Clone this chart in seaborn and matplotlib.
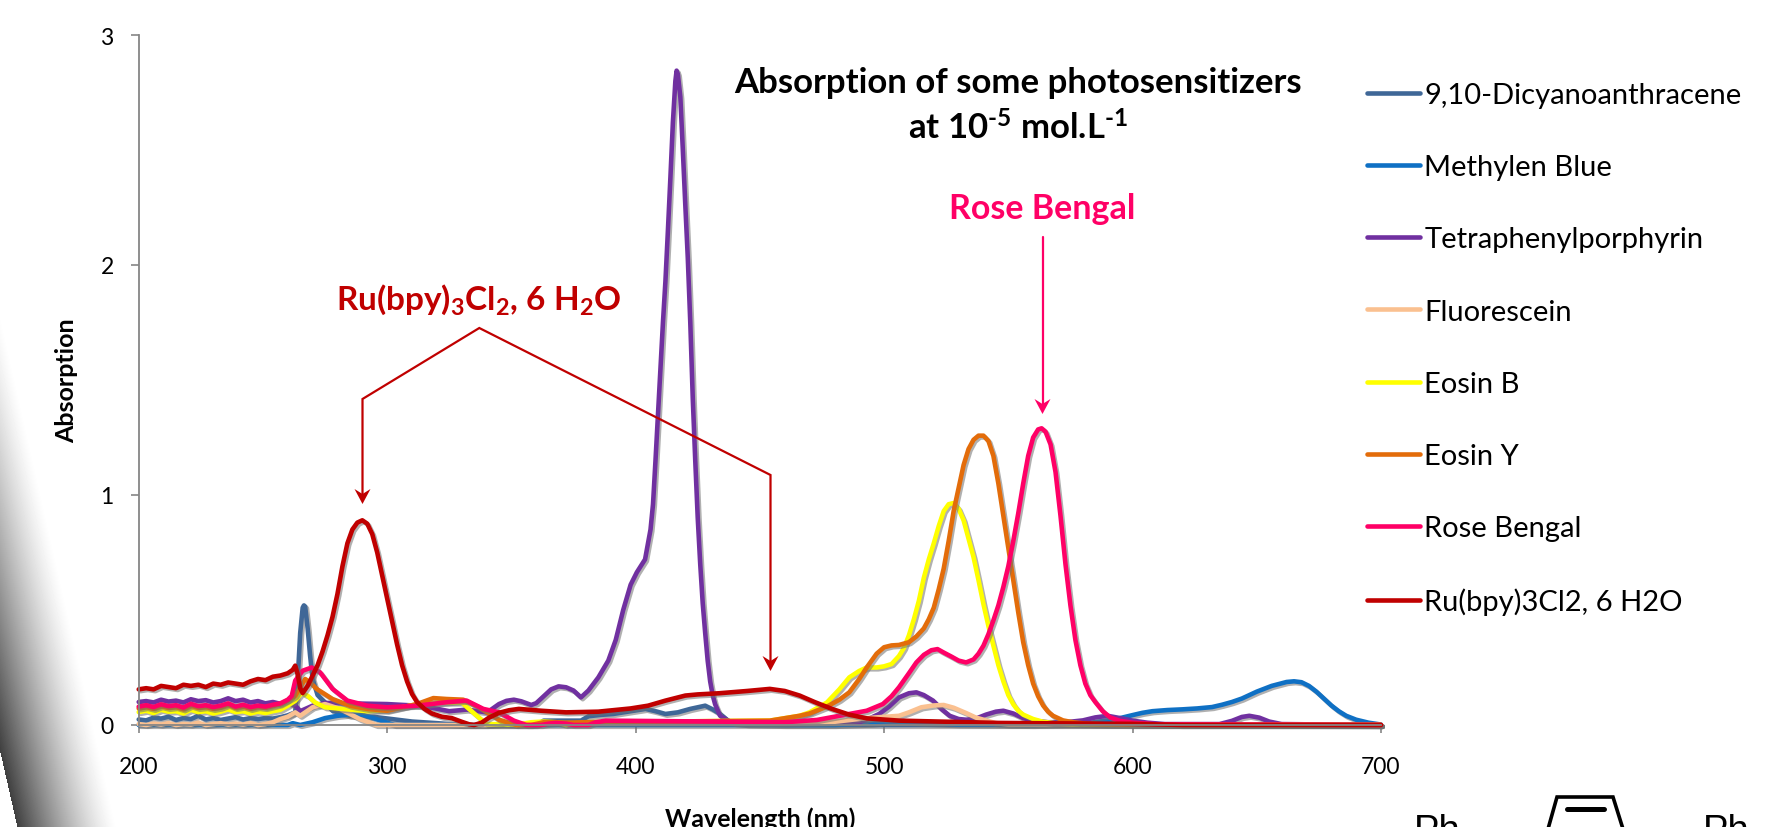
import numpy as np
import pandas as pd
import matplotlib
matplotlib.use("Agg")
import matplotlib.pyplot as plt
import matplotlib.patheffects as pe
from matplotlib.lines import Line2D
from matplotlib.patches import Polygon
import seaborn as sns

W_PX, H_PX = 1788, 828

# baseline noise is read every 3 nm from 200 to 260
noise_wl = list(range(200, 261, 3))

dca_noise = [.024, .02, .032, .028, .036, .022, .03, .026, .04, .024, .03, .022, .028, .034, .024, .03, .026, .03, .028, .034, .042]
dca_peaks = [(263, .055), (264, .2), (265, .4), (266, .51), (266.5, .52), (267, .515), (268, .42), (269, .3), (270, .2), (272, .13), (275, .098),
             (278, .062), (285, .04), (295, .035), (310, .015), (320, .008), (330, 0), (360, 0), (363, .019), (378, .019),
             (381, .038), (386, .044), (391, .048), (398, .06), (404, .07), (408, .06), (412, .048), (417, .055), (422, .07), (428, .084),
             (431, .068), (434, .048), (438, .012), (445, .003), (460, 0), (700, 0)]

mb_noise = [0] * 21
mb_peaks = [(262, .008), (265, 0), (270, .012), (275, .03), (280, .04), (285, .045), (290, .045), (295, .028), (300, .01), (303, 0),
            (480, 0), (495, .006), (500, .012), (510, .012), (530, .003), (560, 0), (580, .005), (590, .02), (595, .03), (600, .043),
            (604, .053), (608, .06), (614, .065), (620, .068), (626, .072), (632, .078), (636, .088), (640, .1), (644, .115), (647, .13),
            (650, .145), (656, .17), (662, .187), (665, .19), (668, .186), (671, .17), (674, .145), (677, .115), (680, .085),
            (683, .06), (686, .04), (690, .023), (695, .01), (700, .002)]

tpp_noise = [.1, .104, .098, .11, .102, .106, .098, .112, .104, .108, .098, .104, .116, .104, .11, .098, .104, .094, .1, .092, .096]
tpp_peaks = [(263, .085), (265, .06), (270, .084), (275, .096), (285, .094), (300, .091), (312, .084), (318, .075), (325, .06),
             (332, .067), (340, .055), (342, .068), (345, .091), (348, .105), (351, .11), (354, .103), (358, .087), (360, .095),
             (363, .125), (366, .155), (369, .168), (372, .164), (375, .15), (378, .12), (381, .15), (385, .207), (389, .28),
             (392, .37), (395, .5), (398, .61), (400.5, .664), (403.8, .72), (406, .85), (407, .96), (408, 1.15),
             (409, 1.35), (410, 1.55), (411, 1.75), (412, 1.93), (413, 2.15), (414, 2.38), (415, 2.62), (416, 2.8), (416.5, 2.845),
             (417, 2.83), (418, 2.73), (419, 2.5), (420, 2.26), (421, 2.03), (422, 1.75), (423, 1.42), (424, 1.15), (425, .9),
             (426, .7), (427, .53), (428, .4), (429, .28), (430, .19), (431, .13), (432, .09), (434, .04), (437, .02), (440, .008),
             (445, .005), (490, .012), (494, .028), (498, .048), (502, .08), (506, .12), (510, .138), (513, .142), (516, .13),
             (519.7, .106), (523, .07), (526.4, .04), (530, .026), (533, .023), (537, .028), (541, .045), (545, .058), (548, .062),
             (552, .05), (556, .03), (560, .019), (566, .012), (573, .012), (580, .02), (585, .033), (590, .04), (595, .03), (600, .019),
             (606, .01), (613, .004), (635, .004), (640, .018), (644, .035), (647, .04), (651, .032), (655, .015), (660, .004), (700, 0)]

fluo_noise = [.004, 0, .006, .002, .008, 0, .004, .002, .01, 0, .004, .008, .002, .006, .002, .008, 0, .004, .012, .026, .036]
fluo_peaks = [(263, .055), (265, .04), (270, .077), (275, .091), (281, .07), (289, .026), (295.6, 0), (340, 0), (350, .008), (460, .008),
              (480, .014), (493, .03), (506, .04), (510, .055), (515, .077), (520, .085), (524, .087), (528, .075), (533, .052),
              (537, .032), (540, .023), (545, .008), (550, .002), (700, 0)]

eosb_noise = [.056, .062, .052, .066, .058, .06, .05, .066, .056, .06, .05, .058, .068, .056, .06, .05, .058, .052, .06, .066, .084]
eosb_peaks = [(263, .105), (265.5, .139), (268, .127), (271, .098), (275, .077), (285, .067), (292, .06), (300, .065), (312, .09),
              (322, .097), (330, .098), (334.5, .055), (340, .004), (346.7, .004), (352, 0), (358, .012), (363, .015), (368, .012),
              (372, 0), (380, .012), (454, .019), (466, .04), (470, .055), (477, .098), (482, .155), (486, .207), (490, .235), (493, .25),
              (497, .25), (500, .255), (503, .265), (506, .3), (508, .335), (510, .39), (512, .46), (514, .54), (516, .64), (518, .72),
              (520, .79), (522, .865), (524, .93), (526, .96), (528, .965), (530, .94), (532, .89), (534, .81), (536, .73), (538, .63),
              (540, .525), (542, .43), (544, .345), (546, .26), (548, .19), (550, .13), (552, .09), (554, .062), (556, .045),
              (560, .026), (564, .014), (570, .006), (580, .002), (600, 0), (700, 0)]

eosy_noise = [.072, .078, .07, .082, .074, .078, .068, .084, .074, .078, .07, .076, .088, .074, .08, .07, .078, .074, .082, .09, .108]
eosy_peaks = [(263, .127), (267, .2), (269, .185), (271.6, .157), (278, .113), (285, .084), (292, .07), (300, .062), (312, .091),
              (318.6, .117), (324, .113), (330.6, .11), (337, .077), (345, .023), (352, 0), (358, 0), (363, .012), (368, .012),
              (372, .01), (380, .012), (454, .019), (466, .04), (470, .05), (477, .08), (482, .11), (486, .142), (490, .2), (493, .25),
              (497, .31), (500, .338), (503, .346), (506, .348), (510, .36), (513, .385), (516, .42), (518, .46), (520, .51), (522, .59),
              (524, .68), (526, .8), (528, .93), (530, 1.03), (532, 1.13), (534, 1.2), (536, 1.24), (538, 1.258), (540, 1.258), (542, 1.235),
              (544, 1.17), (546, 1.05), (548, .91), (550, .77), (552, .63), (554, .49), (556, .36), (558, .26), (560, .18), (562, .125),
              (564, .085), (566, .058), (568, .04), (572, .02), (576, .012), (582, .005), (590, .002), (700, 0)]

rose_noise = [.08, .086, .078, .09, .082, .086, .076, .092, .082, .086, .078, .084, .094, .08, .088, .078, .084, .08, .088, .094, .11]
rose_peaks = [(261.6, .127), (263, .193), (266, .236), (269.6, .25), (273, .229), (278, .157), (284, .106), (292, .084), (300, .077),
              (312, .084), (324, .099), (332, .106), (338.7, .07), (345, .055), (351, .019), (356, 0), (362, 0), (365, .006), (368, .009),
              (372, .006), (375, 0), (381, 0), (384, .012), (388, .019), (420, .016), (460, .012), (473, .022), (486, .048), (493, .062),
              (499.5, .091), (503, .125), (506, .164), (510, .225), (513, .272), (516, .305), (519, .325), (521.5, .33), (524, .315),
              (527, .298), (530, .28), (533, .272), (536, .285), (538, .31), (540, .345), (542, .395), (544, .455), (546, .52), (548, .6),
              (550, .69), (552, .8), (554, .92), (556, 1.05), (558, 1.17), (560, 1.25), (562, 1.285), (563.4, 1.29), (565, 1.275),
              (567, 1.22), (569, 1.1), (571, .91), (573, .7), (575, .52), (577, .37), (579, .26), (581, .18), (583, .13), (585, .1),
              (588, .06), (591, .033), (595, .018), (600, .01), (610, .003), (700, 0)]

ru_noise = [.155, .16, .155, .17, .165, .16, .175, .17, .175, .165, .18, .175, .185, .18, .175, .19, .2, .195, .21, .215, .225]
ru_peaks = [(262, .24), (263, .258), (264, .22), (265, .16), (266, .139), (268, .17), (270, .215), (272, .26), (274, .32), (276, .39),
            (278, .47), (280, .57), (282, .69), (284, .79), (286, .85), (288, .88), (290, .89), (292, .875), (294, .83),
            (296, .75), (298, .65), (300, .55), (302, .45), (304, .35), (306, .26), (308, .19), (310, .135), (312, .1), (315, .07),
            (318, .05), (322, .036), (326, .03), (330, .014), (333, .003), (335, 0), (338, .01), (341, .032), (345, .053), (349, .064),
            (353, .07), (362, .062), (372, .055), (385, .058), (398, .072), (405, .084), (412, .106), (420, .128), (425, .133), (433.6, .138),
            (445, .148), (454, .157), (460, .148), (466, .128), (472, .1), (479, .07), (486, .045), (493, .029), (506, .019),
            (546, .009), (600, .005), (620, 0), (700, 0)]

series_names = ["9,10-Dicyanoanthracene", "Methylen Blue", "Tetraphenylporphyrin", "Fluorescein",
                "Eosin B", "Eosin Y", "Rose Bengal", "Ru(bpy)3Cl2, 6 H2O"]
series_noise = [dca_noise, mb_noise, tpp_noise, fluo_noise, eosb_noise, eosy_noise, rose_noise, ru_noise]
series_peaks = [dca_peaks, mb_peaks, tpp_peaks, fluo_peaks, eosb_peaks, eosy_peaks, rose_peaks, ru_peaks]
colors = ["#3F6797", "#0F70C4", "#7030A0", "#FAC090", "#FFFF00", "#E36C0A", "#FF0066", "#C00000"]

x_ticks = [200, 300, 400, 500, 600, 700]
y_ticks = [0, 1, 2, 3]

sns.set_style("white")
plt.rcParams["font.family"] = ["Lato", "DejaVu Sans"]
plt.rcParams["text.color"] = "black"
plt.rcParams["mathtext.fontset"] = "custom"
plt.rcParams["mathtext.bf"] = "Lato:bold"
plt.rcParams["mathtext.rm"] = "Lato:bold"
plt.rcParams["mathtext.default"] = "bf"


def fx(x):
    return x / W_PX


def fy(y):
    return 1 - y / H_PX


fig = plt.figure(figsize=(W_PX / 100, H_PX / 100), dpi=100, facecolor="white")

# slide shadow in the bottom left corner
bg = fig.add_axes([0, 0, 1, 1], zorder=0)
yy, xx = np.mgrid[0:H_PX, 0:200]
edge = (yy - 753) * 0.227
dist = xx - edge
shade = 0.75 * np.clip(1 - dist / 100, 0, 1) ** 1.3
shade[dist < 0] = 0
canvas = np.ones((H_PX, W_PX))
canvas[:, :200] = 1 - shade
bg.imshow(canvas, cmap="gray", vmin=0, vmax=1, aspect="auto", extent=(0, W_PX, H_PX, 0))
bg.set_xlim(0, W_PX)
bg.set_ylim(H_PX, 0)
bg.axis("off")

ax = fig.add_axes([fx(138.7), fy(726), (1381 - 138.7) / W_PX, 690 / H_PX], zorder=1)
ax.patch.set_alpha(0)

frames = []
for name, noise, peaks in zip(series_names, series_noise, series_peaks):
    frames.append(pd.DataFrame({"wl": noise_wl, "abs": noise, "name": name}))
    frames.append(pd.DataFrame(peaks, columns=["wl", "abs"]).assign(name=name))
df = pd.concat(frames)

sns.lineplot(data=df, x="wl", y="abs", hue="name", hue_order=series_names,
             palette=dict(zip(series_names, colors)), estimator=None, errorbar=None,
             sort=False, linewidth=3.3, ax=ax, clip_on=False)

for line in ax.lines:
    line.set_solid_joinstyle("round")
    line.set_path_effects([pe.SimpleLineShadow(offset=(1.3, -1.3), shadow_color="#707070", alpha=0.55),
                           pe.Normal()])

ax.set_xlim(200, 700)
ax.set_ylim(0, 3)
ax.set_xticks(x_ticks)
ax.set_yticks(y_ticks)
ax.set_xlabel("")
ax.set_ylabel("")
ax.tick_params(axis="both", length=6, width=1.2, color="#868686", labelsize=16.5, labelcolor="black",
               bottom=True, left=True)
ax.tick_params(axis="x", pad=16)
ax.tick_params(axis="y", pad=12)
sns.despine(ax=ax)
for side in ["left", "bottom"]:
    ax.spines[side].set_color("#868686")
    ax.spines[side].set_linewidth(1.3)

handles = [Line2D([], [], color=c, lw=3.3, solid_capstyle="round") for c in colors]
ax.legend(handles, series_names, loc="upper left", bbox_to_anchor=(fx(1367), fy(83)),
          bbox_transform=fig.transFigure, frameon=False, fontsize=21, borderpad=0, borderaxespad=0,
          handlelength=1.8, handletextpad=0.17, labelspacing=1.585)

fig.text(fx(67), fy(381), "Absorption", rotation=90, ha="center", va="center", fontsize=18, fontweight="bold")
fig.text(fx(760), fy(827), "Wavelength (nm)", ha="center", va="baseline", fontsize=18, fontweight="bold")

fig.text(fx(1018), fy(83), "Absorption of some photosensitizers", ha="center", va="center",
         fontsize=25, fontweight="bold")
fig.text(fx(1018), fy(128), r"at 10$^{\text{-}\mathbf{5}}$ mol.L$^{\text{-}\mathbf{1}}$", ha="center", va="center",
         fontsize=25, fontweight="bold")
fig.text(fx(1042), fy(209), "Rose Bengal", ha="center", va="center", fontsize=24.5, fontweight="bold", color="#FF0066")
fig.text(fx(479), fy(300), r"Ru(bpy)$_{\mathbf{3}}$Cl$_{\mathbf{2}}$, 6 H$_{\mathbf{2}}$O", ha="center", va="center",
         fontsize=24, fontweight="bold", color="#C00000")


def polyline(xs, ys, color, lw=1.6):
    fig.add_artist(Line2D([fx(v) for v in xs], [fy(v) for v in ys], color=color, lw=lw,
                          solid_joinstyle="miter", transform=fig.transFigure))


def arrow_head(x, y, color):
    pts = [(x, y), (x - 8, y - 15), (x, y - 10), (x + 8, y - 15)]
    fig.add_artist(Polygon([(fx(a), fy(b)) for a, b in pts], closed=True, facecolor=color,
                           edgecolor="none", transform=fig.transFigure))


polyline([362.5, 362.5, 479.3, 770.5, 770.5], [498, 400, 329, 476, 664], "#C00000")
arrow_head(362.5, 505, "#C00000")
arrow_head(770.5, 672, "#C00000")
polyline([1042.5, 1042.5], [238, 408], "#FF0066")
arrow_head(1042.5, 415, "#FF0066")

# piece of the next slide drawing, cut by the bottom edge
fig.text(fx(1414), fy(842), "Ph", fontsize=27.5, family="Liberation Sans", va="baseline")
fig.text(fx(1703), fy(842), "Ph", fontsize=27.5, family="Liberation Sans", va="baseline")
polyline([1548, 1557, 1613, 1623], [830, 798, 798, 830], "black", lw=2.6)
polyline([1567, 1604], [810, 810], "black", lw=3.6)

fig.savefig("out.png", dpi=100)
